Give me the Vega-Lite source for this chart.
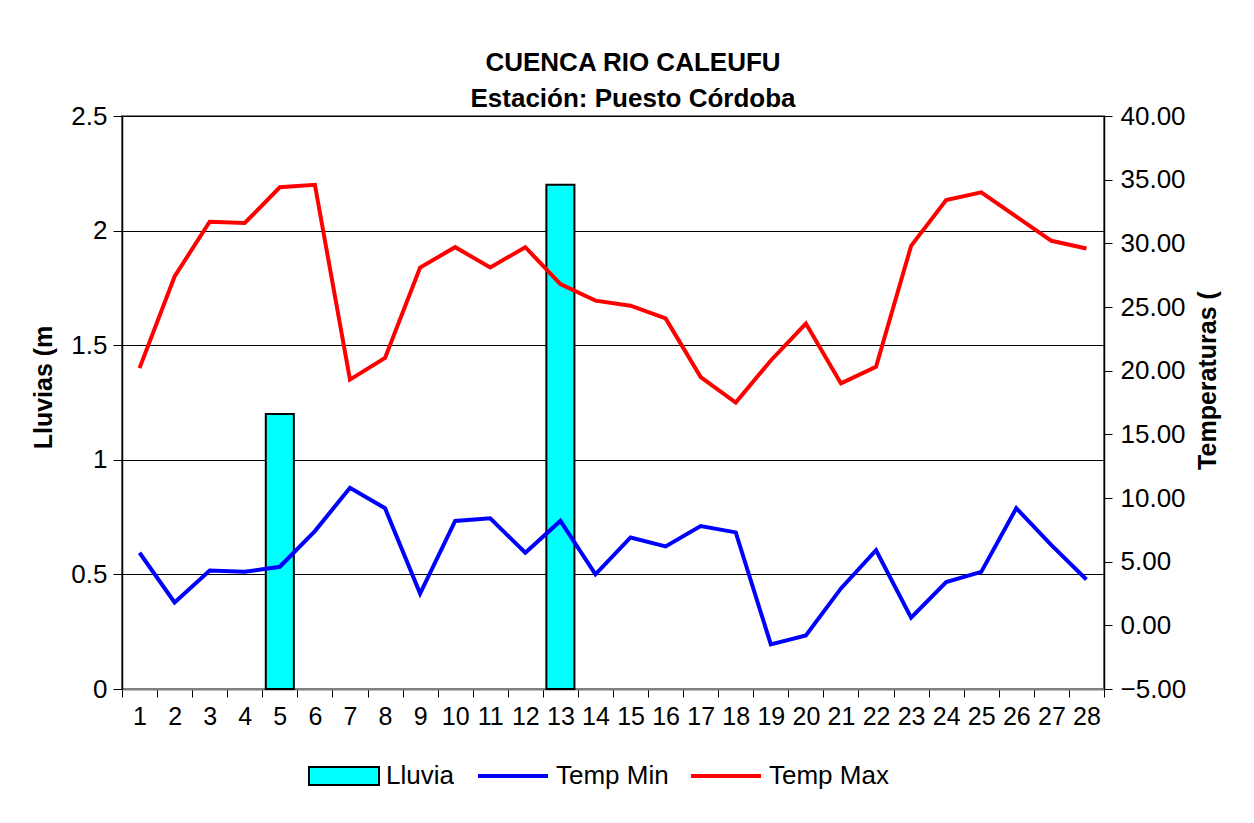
{
  "$schema": "https://vega.github.io/schema/vega-lite/v6.json",
  "width": 982,
  "height": 573,
  "autosize": "none",
  "padding": {"left": 122, "top": 116, "right": 150, "bottom": 134},
  "background": "white",
  "title": {
    "text": "CUENCA RIO CALEUFU",
    "subtitle": "Estación: Puesto Córdoba",
    "anchor": "middle",
    "dx": 20,
    "offset": -9,
    "font": "Liberation Sans",
    "fontSize": 26,
    "fontWeight": "bold",
    "color": "black",
    "subtitleFont": "Liberation Sans",
    "subtitleFontSize": 26,
    "subtitleFontWeight": "bold",
    "subtitleColor": "black",
    "subtitlePadding": 10
  },
  "data": {
    "values": [
      {"day": 1, "lluvia": 0, "Temp Min": 5.7, "Temp Max": 20.2},
      {"day": 2, "lluvia": 0, "Temp Min": 1.8, "Temp Max": 27.4},
      {"day": 3, "lluvia": 0, "Temp Min": 4.3, "Temp Max": 31.7},
      {"day": 4, "lluvia": 0, "Temp Min": 4.2, "Temp Max": 31.6},
      {"day": 5, "lluvia": 1.2, "Temp Min": 4.6, "Temp Max": 34.4},
      {"day": 6, "lluvia": 0, "Temp Min": 7.4, "Temp Max": 34.6},
      {"day": 7, "lluvia": 0, "Temp Min": 10.8, "Temp Max": 19.3},
      {"day": 8, "lluvia": 0, "Temp Min": 9.2, "Temp Max": 21.0},
      {"day": 9, "lluvia": 0, "Temp Min": 2.5, "Temp Max": 28.1},
      {"day": 10, "lluvia": 0, "Temp Min": 8.2, "Temp Max": 29.7},
      {"day": 11, "lluvia": 0, "Temp Min": 8.4, "Temp Max": 28.1},
      {"day": 12, "lluvia": 0, "Temp Min": 5.7, "Temp Max": 29.7},
      {"day": 13, "lluvia": 2.2, "Temp Min": 8.2, "Temp Max": 26.8},
      {"day": 14, "lluvia": 0, "Temp Min": 4.0, "Temp Max": 25.5},
      {"day": 15, "lluvia": 0, "Temp Min": 6.9, "Temp Max": 25.1},
      {"day": 16, "lluvia": 0, "Temp Min": 6.2, "Temp Max": 24.1},
      {"day": 17, "lluvia": 0, "Temp Min": 7.8, "Temp Max": 19.5},
      {"day": 18, "lluvia": 0, "Temp Min": 7.3, "Temp Max": 17.5},
      {"day": 19, "lluvia": 0, "Temp Min": -1.5, "Temp Max": 20.8},
      {"day": 20, "lluvia": 0, "Temp Min": -0.8, "Temp Max": 23.7},
      {"day": 21, "lluvia": 0, "Temp Min": 2.9, "Temp Max": 19.0},
      {"day": 22, "lluvia": 0, "Temp Min": 5.9, "Temp Max": 20.3},
      {"day": 23, "lluvia": 0, "Temp Min": 0.6, "Temp Max": 29.8},
      {"day": 24, "lluvia": 0, "Temp Min": 3.4, "Temp Max": 33.4},
      {"day": 25, "lluvia": 0, "Temp Min": 4.2, "Temp Max": 34.0},
      {"day": 26, "lluvia": 0, "Temp Min": 9.2, "Temp Max": 32.1},
      {"day": 27, "lluvia": 0, "Temp Min": 6.3, "Temp Max": 30.2},
      {"day": 28, "lluvia": 0, "Temp Min": 3.6, "Temp Max": 29.6}
    ]
  },
  "encoding": {
    "x": {
      "field": "day",
      "type": "ordinal",
      "scale": {"paddingInner": 0, "paddingOuter": 0},
      "axis": {
        "title": null,
        "labelAngle": 0,
        "tickBand": "extent",
        "tickSize": 8,
        "tickColor": "black",
        "domainColor": "#808080",
        "domainWidth": 2,
        "labelPadding": 7,
        "labelFontSize": 25
      }
    }
  },
  "layer": [
    {
      "transform": [{"filter": "datum.lluvia > 0"}],
      "mark": {"type": "bar", "width": {"band": 0.8}, "stroke": "black", "strokeWidth": 2},
      "encoding": {
        "y": {
          "field": "lluvia",
          "type": "quantitative",
          "scale": {"domain": [0, 2.5], "nice": false},
          "axis": {
            "orient": "left",
            "title": "Lluvias (m",
            "values": [0, 0.5, 1, 1.5, 2, 2.5],
            "labelExpr": "'' + datum.value",
            "grid": true,
            "gridColor": "black",
            "gridWidth": 1,
            "tickSize": 9,
            "labelPadding": 6,
            "labelFontSize": 26,
            "titleFontSize": 25,
            "titleFontWeight": "bold",
            "titleAngle": 270,
            "titleX": -79,
            "titleY": 271,
            "titleAlign": "center",
            "titleBaseline": "middle"
          }
        },
        "fill": {
          "datum": "Lluvia",
          "scale": {"domain": ["Lluvia"], "range": ["#00FFFF"]},
          "legend": {
            "title": null,
            "orient": "none",
            "direction": "horizontal",
            "legendX": 186,
            "legendY": 624,
            "symbolSize": 4900,
            "symbolType": "M-1,-0.26H1V0.26H-1Z",
            "symbolStrokeColor": "black",
            "symbolStrokeWidth": 2,
            "symbolFillColor": "#00FFFF",
            "symbolOpacity": 1,
            "labelFontSize": 26,
            "labelOffset": 6,
            "labelFont": "Liberation Sans",
            "labelColor": "black"
          }
        }
      }
    },
    {
      "transform": [{"fold": ["Temp Min", "Temp Max"], "as": ["serie", "temp"]}],
      "mark": {"type": "line", "strokeWidth": 4},
      "encoding": {
        "y": {
          "field": "temp",
          "type": "quantitative",
          "scale": {"domain": [-5, 40], "nice": false, "zero": false},
          "axis": {
            "orient": "right",
            "title": "Temperaturas (",
            "values": [-5, 0, 5, 10, 15, 20, 25, 30, 35, 40],
            "format": ".2f",
            "grid": false,
            "tickSize": 8,
            "labelPadding": 8,
            "labelFontSize": 26,
            "titleFontSize": 25,
            "titleFontWeight": "bold",
            "titleAngle": 270,
            "titleX": 103,
            "titleY": 264,
            "titleAlign": "center",
            "titleBaseline": "middle"
          }
        },
        "stroke": {
          "field": "serie",
          "type": "nominal",
          "scale": {"domain": ["Temp Min", "Temp Max"], "range": ["#0000FF", "#FF0000"]},
          "legend": {
            "title": null,
            "orient": "none",
            "direction": "horizontal",
            "legendX": 354,
            "legendY": 623,
            "symbolType": "stroke",
            "symbolSize": 4900,
            "symbolStrokeWidth": 4,
            "labelFontSize": 26,
            "labelOffset": 6,
            "columnPadding": 14,
            "labelFont": "Liberation Sans",
            "labelColor": "black"
          }
        },
        "detail": {"field": "serie"}
      }
    }
  ],
  "resolve": {"scale": {"y": "independent"}},
  "config": {
    "font": "Liberation Sans",
    "view": {"stroke": "#808080", "strokeWidth": 2},
    "axis": {
      "labelFont": "Liberation Sans",
      "titleFont": "Liberation Sans",
      "labelColor": "black",
      "titleColor": "black",
      "domainColor": "black",
      "domainWidth": 1.5,
      "tickColor": "black",
      "tickWidth": 1
    }
  }
}
